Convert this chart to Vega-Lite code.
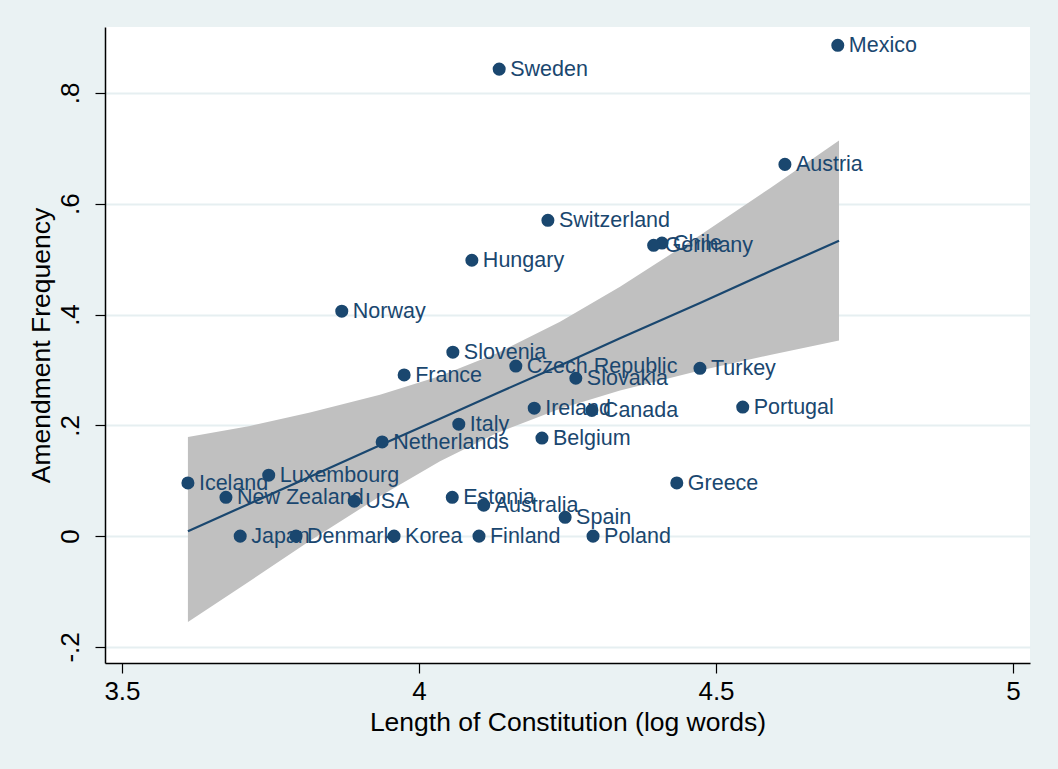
{
  "$schema": "https://vega.github.io/schema/vega-lite/v6.json",
  "width": 925,
  "height": 636,
  "autosize": {"type": "none"},
  "padding": {"left": 105, "top": 27, "right": 28, "bottom": 106},
  "background": "#EAF2F3",
  "config": {
    "view": {"stroke": null, "fill": "white"},
    "font": "Liberation Sans"
  },
  "datasets": {
    "pts": [
      {"country": "Mexico", "len": 4.705, "freq": 0.886},
      {"country": "Sweden", "len": 4.135, "freq": 0.843},
      {"country": "Austria", "len": 4.616, "freq": 0.671},
      {"country": "Switzerland", "len": 4.217, "freq": 0.570},
      {"country": "Chile", "len": 4.409, "freq": 0.529},
      {"country": "Germany", "len": 4.395, "freq": 0.525},
      {"country": "Hungary", "len": 4.089, "freq": 0.498},
      {"country": "Norway", "len": 3.870, "freq": 0.406},
      {"country": "Slovenia", "len": 4.057, "freq": 0.332},
      {"country": "Czech Republic", "len": 4.163, "freq": 0.307},
      {"country": "France", "len": 3.975, "freq": 0.291},
      {"country": "Slovakia", "len": 4.264, "freq": 0.285},
      {"country": "Turkey", "len": 4.473, "freq": 0.303},
      {"country": "Portugal", "len": 4.545, "freq": 0.233},
      {"country": "Ireland", "len": 4.194, "freq": 0.231},
      {"country": "Canada", "len": 4.291, "freq": 0.227},
      {"country": "Italy", "len": 4.067, "freq": 0.202},
      {"country": "Belgium", "len": 4.207, "freq": 0.177},
      {"country": "Netherlands", "len": 3.938, "freq": 0.170},
      {"country": "Iceland", "len": 3.611, "freq": 0.096},
      {"country": "Luxembourg", "len": 3.747, "freq": 0.110},
      {"country": "New Zealand", "len": 3.675, "freq": 0.070},
      {"country": "USA", "len": 3.891, "freq": 0.063},
      {"country": "Estonia", "len": 4.056, "freq": 0.070},
      {"country": "Australia", "len": 4.109, "freq": 0.056},
      {"country": "Spain", "len": 4.246, "freq": 0.034},
      {"country": "Greece", "len": 4.434, "freq": 0.096},
      {"country": "Japan", "len": 3.699, "freq": 0.0},
      {"country": "Denmark", "len": 3.793, "freq": 0.0},
      {"country": "Korea", "len": 3.958, "freq": 0.0},
      {"country": "Finland", "len": 4.101, "freq": 0.0},
      {"country": "Poland", "len": 4.293, "freq": 0.0}
    ],
    "band": [
      {"len": 3.611, "lo": -0.155, "hi": 0.179, "fit": 0.009},
      {"len": 3.7155, "lo": -0.081, "hi": 0.199, "fit": 0.059},
      {"len": 3.8165, "lo": -0.0085, "hi": 0.223, "fit": 0.107},
      {"len": 3.9343, "lo": 0.072, "hi": 0.255, "fit": 0.164},
      {"len": 4.0354, "lo": 0.135, "hi": 0.289, "fit": 0.212},
      {"len": 4.1313, "lo": 0.186, "hi": 0.330, "fit": 0.258},
      {"len": 4.2374, "lo": 0.230, "hi": 0.387, "fit": 0.308},
      {"len": 4.3384, "lo": 0.263, "hi": 0.450, "fit": 0.357},
      {"len": 4.4731, "lo": 0.299, "hi": 0.543, "fit": 0.421},
      {"len": 4.5909, "lo": 0.327, "hi": 0.628, "fit": 0.478},
      {"len": 4.7071, "lo": 0.353, "hi": 0.714, "fit": 0.533}
    ]
  },
  "encoding": {
    "x": {
      "field": "len", "type": "quantitative",
      "scale": {"domain": [3.4714, 5.0286], "nice": false, "zero": false},
      "axis": {
        "title": "Length of Constitution (log words)",
        "values": [3.5, 4, 4.5, 5],
        "format": "~g",
        "grid": false,
        "domainColor": "black", "domainWidth": 1.5,
        "tickColor": "black", "tickSize": 10, "tickWidth": 1.2,
        "labelColor": "black", "labelFontSize": 26, "labelPadding": 5,
        "labelFont": "Liberation Sans", "labelFlush": false,
        "titleColor": "black", "titleFontSize": 26.5, "titleFontWeight": "normal",
        "titleFont": "Liberation Sans", "titlePadding": 5
      }
    }
  },
  "layer": [
    {
      "data": {"name": "band"},
      "mark": {"type": "area", "color": "#C0C0C0", "opacity": 1},
      "encoding": {
        "y": {
          "field": "hi", "type": "quantitative",
          "scale": {"domain": [-0.229, 0.919], "nice": false, "zero": false},
          "axis": {
            "title": "Amendment Frequency",
            "values": [-0.2, 0, 0.2, 0.4, 0.6, 0.8],
            "labelExpr": "datum.value == 0 ? '0' : (datum.value < 0 ? '-' : '') + replace(format(abs(datum.value), '.1f'), '0.', '.')",
            "grid": true, "gridColor": "#E6EFF1", "gridWidth": 2,
            "domainColor": "black", "domainWidth": 1.5,
            "tickColor": "black", "tickSize": 10, "tickWidth": 1.2,
            "labelColor": "black", "labelFontSize": 26, "labelAngle": 270,
            "labelAlign": "center", "labelBaseline": "bottom", "labelPadding": 12,
            "labelFont": "Liberation Sans", "labelFlush": false,
            "titleColor": "black", "titleFontSize": 26.5, "titleFontWeight": "normal",
            "titleFont": "Liberation Sans", "titlePadding": 2
          }
        },
        "y2": {"field": "lo"}
      }
    },
    {
      "data": {"name": "band"},
      "mark": {"type": "line", "color": "#1A476F", "strokeWidth": 2.2},
      "encoding": {"y": {"field": "fit", "type": "quantitative"}}
    },
    {
      "data": {"name": "pts"},
      "mark": {"type": "circle", "color": "#1A476F", "opacity": 1, "size": 170},
      "encoding": {"y": {"field": "freq", "type": "quantitative"}}
    },
    {
      "data": {"name": "pts"},
      "mark": {"type": "text", "align": "left", "baseline": "middle", "dx": 11, "dy": 1, "fontSize": 21.5, "color": "#1A476F", "font": "Liberation Sans"},
      "encoding": {
        "y": {"field": "freq", "type": "quantitative"},
        "text": {"field": "country"}
      }
    }
  ]
}
